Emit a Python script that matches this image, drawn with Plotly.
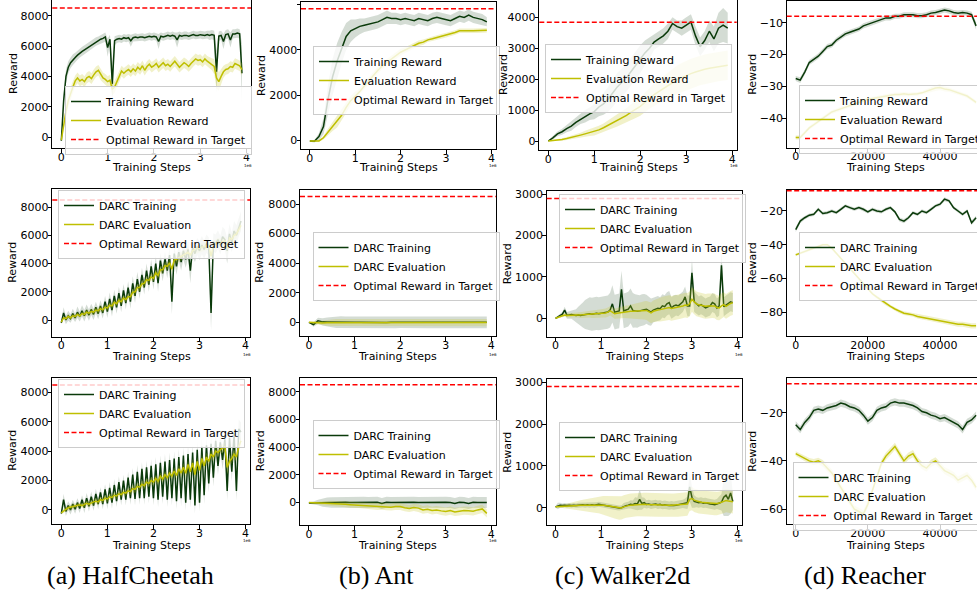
import numpy as np
import plotly.graph_objects as go

W, H = 977, 592

# ---------------- x grids (training steps) ----------------
STEPS_FINE = np.arange(0, 3.9e6 + 1, 5e4)      # 79 points
STEPS_COARSE = np.arange(0, 3.9e6 + 1, 1e5)    # 40 points
STEPS_REACHER = np.arange(0, 50000 + 1, 1250)  # 41 points

# ---------------- HalfCheetah, row 1 ----------------
HC1_TRAIN = [-250, 2400, 4000, 4600, 4900, 5100, 5250, 5400, 5550, 5650,
             5750, 5850, 5950, 6100, 6200, 6300, 6350, 6450, 6500, 6600,
             5900, 6450, 3500, 6350, 6450, 6500, 6450, 6550, 6500, 6550,
             6350, 6550, 6600, 6550, 6600, 6600, 6550, 6600, 6650, 6600,
             6650, 6600, 6300, 6650, 6600, 6650, 6700, 6650, 6700, 6650,
             6400, 6700, 6650, 6700, 6700, 6650, 6700, 6750, 6700, 6700,
             6750, 6700, 6700, 6750, 6700, 6750, 6700, 4300, 6650, 6700,
             6300, 6750, 6800, 6400, 6800, 6800, 6850, 6800, 4200]
HC1_TRAIN_SD = [60, 400, 450, 400, 350, 350, 300, 300, 300, 300,
                300, 300, 300, 300, 300, 280, 280, 280, 280, 300,
                600, 300, 1400, 300, 250, 250, 250, 250, 250, 250,
                400, 250, 250, 250, 250, 250, 250, 250, 250, 250,
                250, 250, 500, 250, 250, 250, 250, 250, 250, 250,
                500, 250, 250, 250, 250, 250, 250, 250, 250, 250,
                250, 250, 250, 250, 300, 300, 300, 1400, 300, 300,
                500, 300, 300, 500, 300, 300, 300, 300, 2000]
HC1_EVAL = [-200, 800, 1700, 2400, 2900, 3300, 3700, 3900, 3700, 3800,
            3650, 3900, 4000, 3850, 4100, 4300, 4400, 4100, 3900, 3800,
            3650, 3750, 3150, 3300, 3700, 4000, 4350, 4200, 4350, 4450,
            4300, 4500, 4350, 4600, 4450, 4700, 4400, 4650, 4800, 4600,
            4700, 4850, 4600, 4750, 4900, 4700, 4800, 4650, 4850, 5000,
            4800, 4600, 4750, 4900, 4800, 4650, 4850, 5000, 5150, 5050,
            5100, 4950, 5150, 5000, 4900, 4800, 4650, 3900, 3650, 4000,
            4300, 4450, 4500, 4650, 4600, 4850, 4750, 4700, 4450]
HC1_EVAL_SD = [60, 300, 400, 400, 400, 400, 350, 350, 350, 350,
               350, 350, 350, 350, 350, 350, 350, 350, 350, 350,
               350, 350, 400, 400, 350, 350, 350, 350, 350, 350,
               350, 350, 350, 350, 350, 350, 350, 350, 350, 350,
               350, 350, 350, 350, 350, 350, 350, 350, 350, 350,
               350, 350, 350, 350, 350, 350, 350, 350, 350, 350,
               350, 350, 350, 350, 350, 400, 500, 700, 600, 500,
               400, 350, 350, 350, 350, 350, 350, 350, 400]
HC1_OPT = 8500

# ---------------- Ant, row 1 ----------------
ANT1_TRAIN = [-50, -60, 150, 600, 1800, 2800, 3500, 4100, 4600, 4850,
              4950, 5050, 5100, 5150, 5200, 5250, 5350, 5450, 5400, 5400,
              5350, 5400, 5350, 5300, 5400, 5350, 5300, 5400, 5450, 5400,
              5350, 5300, 5400, 5500, 5450, 5550, 5450, 5400, 5350, 5250]
ANT1_TRAIN_SD = [30, 50, 150, 350, 650, 800, 800, 700, 600, 500,
                 400, 350, 300, 300, 300, 300, 300, 300, 250, 250,
                 250, 250, 250, 250, 250, 250, 250, 250, 250, 250,
                 250, 250, 250, 250, 250, 250, 250, 250, 250, 200]
ANT1_EVAL = [-50, -60, -40, 100, 350, 600, 800, 1100, 1450, 1750,
             1950, 2150, 2400, 2650, 2900, 3100, 3300, 3450, 3600, 3750,
             3900, 4000, 4100, 4200, 4300, 4350, 4450, 4500, 4550, 4600,
             4650, 4700, 4780, 4850, 4870, 4860, 4850, 4850, 4850, 4880]
ANT1_EVAL_SD = [20, 30, 50, 80, 150, 200, 250, 250, 250, 200,
                200, 150, 150, 150, 150, 150, 150, 150, 150, 150,
                150, 120, 120, 120, 120, 120, 100, 100, 100, 100,
                100, 100, 100, 100, 100, 100, 100, 100, 100, 100]
ANT1_OPT = 5830

# ---------------- Walker2d, row 1 ----------------
WK1_TRAIN = [0, 100, 230, 300, 400, 480, 600, 700, 800, 880,
             950, 1100, 1200, 1350, 1550, 1750, 1900, 2050, 2250, 2450,
             2650, 2850, 3000, 3200, 3300, 3400, 3550, 3800, 3700, 3650,
             3750, 3850, 3400, 3050, 3250, 3550, 3300, 3650, 3750, 3650]
WK1_TRAIN_SD = [20, 50, 80, 100, 120, 150, 150, 150, 200, 200,
                250, 300, 350, 400, 450, 450, 450, 450, 450, 450,
                450, 400, 350, 250, 250, 250, 250, 200, 200, 250,
                250, 250, 300, 300, 300, 350, 400, 500, 550, 500]
WK1_EVAL = [0, 10, 30, 50, 80, 110, 150, 190, 230, 270,
            300, 360, 430, 510, 590, 670, 740, 830, 930, 1020,
            1120, 1250, 1380, 1500, 1600, 1700, 1800, 1900, 1980, 2050,
            2120, 2180, 2230, 2280, 2320, 2350, 2380, 2410, 2440, 2450]
WK1_EVAL_SD = [10, 20, 30, 40, 50, 60, 70, 80, 100, 110,
               120, 130, 140, 160, 180, 200, 220, 240, 260, 280,
               300, 320, 340, 360, 380, 400, 420, 440, 460, 470,
               480, 480, 480, 480, 480, 480, 480, 480, 480, 480]
WK1_OPT = 3840

# ---------------- Reacher, row 1 ----------------
RC1_TRAIN = [-27.5, -28.0, -25.5, -22.5, -21.5, -20.5, -19.0, -17.5, -17.0, -15.5,
             -14.5, -13.5, -13.0, -12.5, -12.0, -11.0, -10.5, -10.0, -9.5, -9.0,
             -8.5, -8.5, -8.0, -8.0, -7.5, -7.5, -7.5, -7.8, -7.8, -7.5,
             -7.0, -6.8, -6.5, -6.0, -6.3, -6.8, -7.0, -6.8, -7.0, -7.5,
             -11.0]
RC1_TRAIN_SD = [0.8, 0.9, 0.8, 0.8, 0.8, 0.8, 0.8, 0.8, 0.8, 0.8,
                0.8, 0.8, 0.8, 0.8, 0.8, 0.8, 0.8, 0.8, 0.8, 0.8,
                0.8, 0.8, 0.8, 0.8, 0.8, 0.8, 0.8, 0.8, 0.8, 0.8,
                0.8, 0.8, 0.8, 0.8, 0.8, 0.8, 0.8, 0.8, 0.8, 0.9,
                1.2]
RC1_EVAL = [-46.0, -46.0, -44.5, -43.0, -42.0, -41.0, -40.0, -39.0, -38.0, -37.5,
            -37.0, -36.5, -36.0, -35.5, -35.0, -34.5, -34.0, -33.8, -33.5, -33.2,
            -33.0, -32.8, -32.5, -32.5, -32.3, -32.5, -32.5, -32.3, -32.0, -31.5,
            -31.0, -30.5, -30.3, -30.8, -31.0, -31.5, -32.0, -32.5, -33.0, -34.0,
            -35.0]
RC1_EVAL_SD = [0.6, 0.6, 0.6, 0.6, 0.6, 0.6, 0.6, 0.6, 0.6, 0.6,
               0.6, 0.6, 0.6, 0.6, 0.6, 0.6, 0.6, 0.6, 0.6, 0.6,
               0.6, 0.6, 0.6, 0.6, 0.6, 0.6, 0.6, 0.6, 0.6, 0.7,
               0.8, 0.9, 0.9, 0.8, 0.7, 0.6, 0.6, 0.6, 0.6, 0.6,
               0.6]
RC1_OPT = -8

# ---------------- HalfCheetah, row 2 (DARC) ----------------
HC2_TRAIN = [-200, 500, 0, 300, 100, 450, 150, 550, 250, 650,
             300, 700, 350, 750, 400, 900, 450, 1000, 500, 1300,
             600, 1500, 700, 1700, 900, 1900, 1000, 2100, 1200, 2300,
             1300, 2600, 1700, 2900, 2000, 3200, 2300, 3500, 2500, 3800,
             2700, 4000, 2600, 4200, 3300, 4300, 3500, 4600, 1300, 4700,
             3800, 4800, 4100, 4900, 4300, 5000, 3500, 5100, 4700, 5200,
             4900, 5300, 5000, 5400, 5200, 500, 5500, 5400, 5700, 5300,
             5900, 5700, 4900, 6100, 5500, 6300, 6000, 6600, 7000]
HC2_TRAIN_SD = [100, 400, 300, 350, 300, 350, 300, 400, 350, 400,
                400, 400, 400, 400, 400, 400, 400, 400, 400, 400,
                450, 450, 450, 450, 450, 450, 450, 450, 450, 450,
                500, 500, 500, 500, 500, 500, 500, 500, 500, 500,
                550, 550, 600, 550, 550, 550, 550, 550, 900, 550,
                600, 600, 600, 600, 600, 600, 900, 600, 600, 600,
                650, 650, 650, 650, 650, 1200, 650, 650, 650, 650,
                700, 700, 900, 700, 700, 700, 700, 700, 700]
HC2_EVAL = [-150, 150, 100, 250, 150, 300, 250, 400, 300, 450,
            400, 550, 480, 600, 560, 700, 650, 800, 720, 900,
            850, 1050, 1000, 1250, 1150, 1400, 1300, 1550, 1450, 1650,
            1650, 1950, 2000, 2300, 2300, 2550, 2600, 2850, 2800, 3050,
            2950, 3350, 3150, 3550, 3550, 3850, 3800, 4050, 3600, 4250,
            4300, 4400, 4500, 4650, 4700, 4800, 4600, 4900, 5000, 5050,
            5100, 5150, 5200, 5250, 5300, 4500, 5300, 5400, 5500, 5450,
            5500, 5600, 5000, 5800, 5700, 6000, 6100, 6400, 6700]
HC2_EVAL_SD = [50, 100, 120, 150, 150, 150, 150, 150, 150, 150,
               200, 200, 200, 200, 200, 200, 200, 200, 200, 200,
               200, 200, 200, 200, 200, 200, 200, 200, 200, 200,
               250, 250, 250, 250, 250, 250, 250, 250, 250, 250,
               250, 250, 250, 250, 250, 250, 250, 250, 250, 250,
               300, 300, 300, 300, 300, 300, 300, 300, 300, 300,
               300, 300, 300, 300, 300, 300, 300, 300, 300, 300,
               300, 300, 300, 300, 300, 300, 300, 300, 300]
HC2_OPT = 8500

# ---------------- Ant, row 2 (DARC) ----------------
ANT2_TRAIN = [0, -150, 100, 30, 20, 10, 0, 10, 0, -10,
              0, 10, 0, -10, 0, 0, 10, -10, 0, 0,
              10, 0, -10, 0, 0, 10, 0, -10, 0, 0,
              10, 0, -10, 0, 0, 10, 0, 0, -10, 0]
ANT2_TRAIN_SD = [20, 150, 200, 250, 300, 350, 380, 400, 400, 400,
                 400, 400, 400, 400, 400, 400, 400, 400, 400, 400,
                 400, 400, 400, 400, 400, 400, 400, 400, 400, 400,
                 400, 400, 400, 400, 400, 400, 400, 400, 400, 400]
ANT2_EVAL = [0, -30, -50, -40, -30, -30, -20, -30, -40, -50,
             -30, -20, -30, -20, -20, -10, -20, -30, -20, -20,
             -20, -30, -20, -20, -30, -20, -10, -20, -20, -30,
             -20, -20, -20, -20, -30, -20, -20, -30, -20, -20]
ANT2_EVAL_SD = [10, 80, 100, 150, 200, 220, 250, 250, 250, 250,
                250, 250, 250, 250, 250, 250, 250, 250, 250, 250,
                250, 250, 250, 250, 250, 250, 250, 250, 250, 250,
                250, 250, 250, 250, 250, 250, 250, 250, 250, 250]
ANT2_OPT = 8500

# ---------------- Walker2d, row 2 (DARC) ----------------
WK2_TRAIN = [0, 40, 80, 100, 200, 70, 80, 90, 80, 70,
             80, 70, 80, 90, 100, 110, 100, 110, 120, 110,
             120, 130, 140, 150, 200, 350, 150, 170, 180, 700,
             180, 200, 220, 300, 190, 180, 170, 180, 200, 210,
             220, 180, 150, 200, 220, 240, 230, 300, 280, 350,
             380, 250, 300, 320, 300, 350, 400, 520, 300, 300,
             1100, 400, 350, 300, 330, 300, 250, 280, 300, 380,
             350, 250, 300, 1280, 280, 320, 350, 400, 380]
WK2_TRAIN_SD = [20, 30, 40, 50, 80, 80, 90, 100, 120, 150,
                200, 250, 300, 350, 380, 400, 400, 400, 400, 400,
                400, 400, 400, 400, 420, 450, 420, 420, 420, 450,
                420, 420, 420, 420, 420, 400, 400, 380, 380, 380,
                350, 350, 330, 300, 300, 300, 280, 280, 280, 280,
                280, 260, 260, 250, 250, 250, 250, 250, 250, 250,
                350, 250, 230, 230, 230, 230, 230, 230, 230, 230,
                230, 230, 230, 350, 230, 230, 230, 230, 230]
WK2_EVAL = [0, 20, 50, 70, 80, 70, 70, 70, 75, 75,
            80, 80, 85, 90, 95, 100, 100, 105, 110, 110,
            115, 120, 130, 150, 180, 150, 110, 120, 130, 140,
            150, 160, 160, 170, 170, 175, 180, 180, 185, 190,
            190, 160, 130, 170, 190, 200, 210, 220, 230, 250,
            260, 240, 250, 270, 280, 290, 300, 320, 310, 350,
            460, 400, 350, 330, 320, 300, 290, 300, 300, 310,
            300, 260, 250, 300, 330, 290, 330, 360, 380]
WK2_EVAL_SD = [10, 20, 30, 40, 40, 50, 50, 50, 60, 60,
               60, 70, 70, 80, 80, 80, 90, 90, 90, 100,
               100, 100, 110, 110, 110, 120, 120, 130, 130, 140,
               140, 150, 150, 160, 170, 180, 190, 200, 210, 220,
               230, 240, 250, 260, 270, 280, 290, 300, 300, 300,
               300, 300, 300, 300, 300, 300, 300, 300, 300, 300,
               300, 300, 300, 300, 300, 300, 300, 300, 300, 300,
               300, 300, 300, 300, 300, 300, 300, 300, 300]
WK2_OPT = 2900

# ---------------- Reacher, row 2 (DARC) ----------------
RC2_TRAIN = [-31, -26, -24, -22.5, -22, -19, -21.5, -21, -20, -21,
             -19, -17, -18, -19, -18, -19, -20.5, -19, -20, -20.5,
             -19, -18, -20.5, -25, -26, -24, -21, -22, -20, -21,
             -19, -17, -16, -13, -14, -18, -20, -22, -20, -27,
             -24]
RC2_TRAIN_SD = [1.5, 1.2, 1.0, 1.0, 1.0, 1.0, 1.0, 1.0, 1.0, 1.0,
                1.0, 1.0, 1.0, 1.0, 1.0, 1.0, 1.0, 1.0, 1.0, 1.0,
                1.0, 1.0, 1.0, 1.2, 1.2, 1.0, 1.0, 1.0, 1.0, 1.0,
                1.0, 1.0, 1.0, 1.2, 1.0, 1.0, 1.0, 1.0, 1.0, 1.3,
                1.2]
RC2_EVAL = [-46, -45, -44, -43, -42, -41, -40, -40, -42, -45,
            -48, -51, -54, -57, -60, -63, -66, -69, -71, -73,
            -75, -76.5, -78, -79.5, -80.5, -81, -81.5, -82.5, -83, -83.5,
            -84, -84.5, -85, -85.5, -86, -86.5, -87, -87, -87.5, -88,
            -88]
RC2_EVAL_SD = [0.8, 0.8, 0.8, 0.8, 0.8, 0.8, 0.8, 0.8, 0.8, 0.8,
               0.8, 0.8, 0.8, 0.8, 0.8, 0.8, 0.9, 0.9, 0.9, 1.0,
               1.0, 1.0, 1.0, 1.0, 1.1, 1.1, 1.1, 1.2, 1.2, 1.2,
               1.3, 1.3, 1.3, 1.4, 1.4, 1.4, 1.5, 1.5, 1.5, 1.5,
               1.5]
RC2_OPT = -8

# ---------------- HalfCheetah, row 3 (DARC) ----------------
HC3_TRAIN = [-250, 700, -100, 300, 0, 400, 50, 500, 100, 700,
             150, 800, 250, 900, 300, 1100, 400, 1200, 400, 1400,
             450, 1500, 500, 1700, 600, 1900, 700, 2000, 700, 2200,
             800, 2400, 750, 2600, 800, 2800, 800, 2900, 900, 3000,
             800, 3100, 700, 3200, 900, 3300, 700, 3400, 800, 3500,
             600, 3600, 800, 3700, 500, 3800, 700, 3900, 300, 4100,
             500, 4300, 1000, 4400, 1800, 4500, 2200, 4700, 3000, 4600,
             3400, 4800, 1300, 4900, 2600, 5200, 1300, 5500, 5300]
HC3_TRAIN_SD = [100, 400, 300, 300, 300, 300, 300, 300, 300, 300,
                350, 350, 350, 350, 350, 350, 350, 350, 350, 350,
                400, 400, 400, 400, 400, 400, 400, 400, 400, 400,
                450, 450, 450, 450, 450, 450, 450, 450, 450, 450,
                500, 500, 500, 500, 500, 500, 500, 500, 500, 500,
                550, 550, 550, 550, 550, 550, 550, 550, 550, 550,
                600, 600, 600, 600, 600, 600, 600, 600, 600, 600,
                650, 650, 650, 650, 650, 650, 650, 650, 650]
HC3_EVAL = [-200, -50, 50, 150, 200, 250, 250, 300, 350, 300,
            350, 450, 400, 500, 550, 600, 550, 700, 650, 800,
            750, 900, 850, 1000, 950, 1100, 1050, 1200, 1150, 1300,
            1250, 1450, 1400, 1600, 1550, 1750, 1650, 1900, 1800, 2000,
            1900, 2150, 1950, 2300, 2100, 2400, 2200, 2500, 2300, 2650,
            2350, 2800, 2500, 2900, 2500, 3100, 2600, 3200, 2400, 3300,
            2700, 3500, 3000, 3600, 3300, 3800, 3600, 4000, 3900, 4100,
            4200, 4300, 2900, 3300, 3500, 3800, 3600, 4300, 4700]
HC3_EVAL_SD = [50, 150, 150, 150, 150, 150, 150, 150, 150, 150,
               200, 200, 200, 200, 200, 200, 200, 200, 200, 200,
               200, 200, 200, 200, 200, 200, 200, 200, 200, 200,
               250, 250, 250, 250, 250, 250, 250, 250, 250, 250,
               250, 250, 250, 250, 250, 250, 250, 250, 250, 250,
               300, 300, 300, 300, 300, 300, 300, 300, 300, 300,
               300, 300, 300, 300, 300, 300, 300, 300, 300, 300,
               300, 300, 500, 300, 300, 300, 300, 300, 300]
HC3_OPT = 8500

# ---------------- Ant, row 3 (DARC) ----------------
ANT3_TRAIN = [-50, -40, -10, -20, 0, -10, -20, -10, 0, -10,
              0, -10, 0, -20, -10, 0, -90, 0, -10, 0,
              -10, 0, -10, 0, -20, -10, 0, -10, 0, -10,
              0, -10, -80, 0, -10, -90, 0, -10, 0, -10]
ANT3_TRAIN_SD = [50, 100, 200, 300, 350, 380, 400, 400, 400, 400,
                 400, 400, 400, 400, 400, 400, 400, 400, 400, 400,
                 400, 400, 400, 400, 400, 400, 400, 400, 400, 400,
                 400, 400, 400, 400, 400, 400, 400, 400, 400, 400]
ANT3_EVAL = [-20, -30, -50, -60, -80, -90, -100, -120, -150, -170,
             -190, -200, -220, -250, -280, -300, -280, -320, -350, -300,
             -310, -400, -450, -380, -420, -550, -500, -600, -550, -620,
             -670, -600, -700, -650, -600, -620, -650, -550, -480, -800]
ANT3_EVAL_SD = [30, 60, 100, 150, 200, 200, 200, 200, 200, 200,
                220, 220, 220, 220, 220, 250, 250, 250, 250, 250,
                250, 250, 250, 250, 280, 280, 280, 280, 280, 300,
                300, 300, 300, 300, 300, 300, 300, 300, 300, 300]
ANT3_OPT = 8500

# ---------------- Walker2d, row 3 (DARC) ----------------
WK3_TRAIN = [20, 40, 60, 50, 60, 50, 60, 50, 60, 50,
             60, 60, 70, 60, 70, 60, 70, 60, 70, 80,
             70, 60, 50, 40, 30, 20, 10, 0, -10, 0,
             30, 50, 60, 80, 70, 100, 90, 200, 100, 120,
             80, 90, 70, 80, 90, 70, 80, 60, 70, 60,
             50, 60, 50, 60, 70, 80, 90, 100, 120, 500,
             250, 150, 130, 120, 130, 110, 120, 100, 90, 80,
             70, 90, 110, 130, 250, 300, 200, 350, 150]
WK3_TRAIN_SD = [20, 80, 60, 50, 50, 50, 50, 50, 50, 50,
                60, 60, 60, 60, 60, 60, 60, 60, 60, 60,
                60, 60, 60, 60, 60, 60, 60, 60, 60, 60,
                80, 80, 80, 100, 100, 150, 150, 250, 150, 120,
                100, 100, 100, 100, 100, 100, 100, 100, 100, 100,
                100, 100, 100, 100, 100, 100, 100, 120, 150, 350,
                250, 150, 120, 120, 120, 120, 120, 120, 120, 120,
                120, 120, 150, 200, 450, 500, 400, 500, 200]
WK3_EVAL = [20, 25, 30, 35, 40, 42, 45, 48, 50, 52,
            55, 56, 58, 60, 60, 62, 64, 65, 66, 68,
            66, 60, 50, 40, 30, 20, 10, 0, -10, -5,
            20, 40, 50, 60, 65, 70, 75, 80, 85, 80,
            75, 72, 70, 70, 68, 66, 65, 64, 62, 60,
            58, 60, 62, 64, 66, 70, 75, 80, 90, 200,
            220, 180, 160, 140, 130, 125, 120, 115, 110, 105,
            100, 100, 110, 130, 150, 170, 160, 150, 140]
WK3_EVAL_SD = [10, 20, 30, 40, 50, 60, 70, 80, 90, 100,
               110, 120, 130, 140, 150, 160, 170, 180, 190, 200,
               210, 220, 230, 240, 250, 260, 270, 280, 280, 280,
               280, 280, 280, 280, 280, 280, 280, 280, 280, 280,
               280, 280, 280, 280, 280, 280, 280, 280, 280, 280,
               280, 280, 280, 280, 280, 280, 280, 280, 280, 280,
               280, 280, 280, 280, 280, 280, 280, 280, 280, 280,
               280, 280, 280, 280, 280, 280, 280, 280, 280]
WK3_OPT = 2900

# ---------------- Reacher, row 3 (DARC) ----------------
RC3_TRAIN = [-25, -27, -24, -22, -19, -18.5, -19, -18, -17.5, -17,
             -16, -16.5, -17.5, -18, -19, -21, -23.5, -22, -19, -18,
             -17.5, -16, -15.5, -16, -16, -16.5, -17, -18, -19.5, -20,
             -21, -21.5, -22.5, -22, -23, -24, -25, -27, -24, -23,
             -21]
RC3_TRAIN_SD = [1.5, 1.5, 1.5, 1.5, 1.5, 1.5, 1.5, 1.5, 1.5, 1.5,
                1.5, 1.5, 1.5, 1.5, 1.5, 1.5, 1.5, 1.5, 1.5, 1.5,
                1.5, 1.5, 1.5, 1.5, 1.5, 1.5, 1.5, 1.5, 1.5, 1.5,
                1.5, 1.5, 1.5, 1.5, 1.5, 1.5, 1.5, 1.6, 1.5, 1.5,
                1.5]
RC3_EVAL = [-37, -38, -39, -40, -40.5, -40, -41, -43, -45, -48,
            -51, -54, -57, -60, -61, -62, -58, -52, -46, -41,
            -38, -36, -34, -37, -40, -38, -37, -40, -42, -43,
            -41, -40, -42, -44, -45, -46, -48, -47, -46, -48,
            -51]
RC3_EVAL_SD = [1.0, 1.0, 1.2, 1.2, 1.3, 1.3, 1.4, 1.4, 1.5, 1.5,
               1.5, 1.5, 1.5, 1.5, 1.5, 1.5, 1.5, 1.5, 1.5, 1.5,
               1.5, 1.5, 1.5, 1.5, 1.5, 1.5, 1.5, 1.5, 1.5, 1.5,
               1.5, 1.5, 1.5, 1.5, 1.5, 1.5, 1.5, 1.5, 1.5, 1.5,
               1.5]
RC3_OPT = -8

ROW1_NAMES = ["Training Reward", "Evaluation Reward", "Optimal Reward in Target"]
DARC_NAMES = ["DARC Training", "DARC Evaluation", "Optimal Reward in Target"]
CAPTIONS = ["(a) HalfCheetah", "(b) Ant", "(c) Walker2d", "(d) Reacher"]
STEP_TICKS = [0, 1e6, 2e6, 3e6, 4e6]
STEP_TICKTEXT = ["0", "1", "2", "3", "4"]
REACHER_TICKS = [0, 20000, 40000]

# ---------------- styling ----------------
TRAIN_C = "#0a3a0a"
EVAL_C = "#bfbf00"
TRAIN_FILL = "rgba(90,120,90,0.26)"
EVAL_FILL = "rgba(200,200,40,0.25)"
FONT = "DejaVu Sans"

panels = [
    dict(x=STEPS_FINE, tr=HC1_TRAIN, trs=HC1_TRAIN_SD, ev=HC1_EVAL, evs=HC1_EVAL_SD, opt=HC1_OPT, names=ROW1_NAMES),
    dict(x=STEPS_COARSE, tr=ANT1_TRAIN, trs=ANT1_TRAIN_SD, ev=ANT1_EVAL, evs=ANT1_EVAL_SD, opt=ANT1_OPT, names=ROW1_NAMES),
    dict(x=STEPS_COARSE, tr=WK1_TRAIN, trs=WK1_TRAIN_SD, ev=WK1_EVAL, evs=WK1_EVAL_SD, opt=WK1_OPT, names=ROW1_NAMES),
    dict(x=STEPS_REACHER, tr=RC1_TRAIN, trs=RC1_TRAIN_SD, ev=RC1_EVAL, evs=RC1_EVAL_SD, opt=RC1_OPT, names=ROW1_NAMES),
    dict(x=STEPS_FINE, tr=HC2_TRAIN, trs=HC2_TRAIN_SD, ev=HC2_EVAL, evs=HC2_EVAL_SD, opt=HC2_OPT, names=DARC_NAMES),
    dict(x=STEPS_COARSE, tr=ANT2_TRAIN, trs=ANT2_TRAIN_SD, ev=ANT2_EVAL, evs=ANT2_EVAL_SD, opt=ANT2_OPT, names=DARC_NAMES),
    dict(x=STEPS_FINE, tr=WK2_TRAIN, trs=WK2_TRAIN_SD, ev=WK2_EVAL, evs=WK2_EVAL_SD, opt=WK2_OPT, names=DARC_NAMES),
    dict(x=STEPS_REACHER, tr=RC2_TRAIN, trs=RC2_TRAIN_SD, ev=RC2_EVAL, evs=RC2_EVAL_SD, opt=RC2_OPT, names=DARC_NAMES),
    dict(x=STEPS_FINE, tr=HC3_TRAIN, trs=HC3_TRAIN_SD, ev=HC3_EVAL, evs=HC3_EVAL_SD, opt=HC3_OPT, names=DARC_NAMES),
    dict(x=STEPS_COARSE, tr=ANT3_TRAIN, trs=ANT3_TRAIN_SD, ev=ANT3_EVAL, evs=ANT3_EVAL_SD, opt=ANT3_OPT, names=DARC_NAMES),
    dict(x=STEPS_FINE, tr=WK3_TRAIN, trs=WK3_TRAIN_SD, ev=WK3_EVAL, evs=WK3_EVAL_SD, opt=WK3_OPT, names=DARC_NAMES),
    dict(x=STEPS_REACHER, tr=RC3_TRAIN, trs=RC3_TRAIN_SD, ev=RC3_EVAL, evs=RC3_EVAL_SD, opt=RC3_OPT, names=DARC_NAMES),
]

# layout geometry in pixels: (left, right, top, bottom), y range, y dtick, legend (left, top), ylabel x
geom = [
    dict(box=(52.3, 251, 0, 148), yr=(-725, 9035), dt=2000, leg=(65, 86), ylx=13),
    dict(box=(301, 495.7, 2, 149), yr=(-400, 6133), dt=2000, leg=(313, 46), ylx=261.5),
    dict(box=(539.3, 736.7, 0, 150), yr=(-291, 4560), dt=1000, leg=(545, 44), ylx=503),
    dict(box=(786.7, 977, 1, 147.7), yr=(-49.2, -3.2), dt=10, leg=(799, 85), ylx=752.5),
    dict(box=(52.3, 250, 189, 336.7), yr=(-1182, 9274), dt=2000, leg=(58, 190), ylx=13),
    dict(box=(300, 495.7, 189.7, 336), yr=(-926, 8967), dt=2000, leg=(312.5, 232), ylx=260),
    dict(box=(546.7, 741.7, 191, 336.7), yr=(-445, 3080), dt=1000, leg=(559, 194), ylx=507.5),
    dict(box=(786.7, 977, 189.7, 336), yr=(-94.0, -7.4), dt=20, leg=(799, 232), ylx=752.5),
    dict(box=(52.3, 250, 377.7, 524), yr=(-952, 8992), dt=2000, leg=(58, 379), ylx=13),
    dict(box=(300, 495.7, 377.7, 525), yr=(-1642, 9013), dt=2000, leg=(312.5, 420), ylx=260),
    dict(box=(546.7, 741.7, 379.3, 525), yr=(-414, 3072), dt=1000, leg=(559, 422), ylx=507.5),
    dict(box=(786.7, 977, 378.3, 524), yr=(-66.2, -5.7), dt=20, leg=(792.5, 462), ylx=752.5),
]
XLABEL_Y = [167.7, 356, 545]
OFFSET_Y = [165.5, 354.5, 540.5]
CAPTION_X = [130, 376.5, 622.5, 865]
CAPTION_Y = 575

fig = go.Figure()
layout = dict(
    width=W, height=H, margin=dict(l=0, r=0, t=0, b=0, pad=0, autoexpand=False),
    paper_bgcolor="white", plot_bgcolor="white",
    font=dict(family=FONT, size=11, color="black"),
    shapes=[], annotations=[],
)

for k, (p, g) in enumerate(zip(panels, geom), start=1):
    sfx = "" if k == 1 else str(k)
    xa, ya = "x" + sfx, "y" + sfx
    lg = "legend" + sfx
    reacher = (k % 4 == 0)
    x = np.asarray(p["x"], dtype=float)
    tr = np.asarray(p["tr"], dtype=float)
    trs = np.asarray(p["trs"], dtype=float)
    ev = np.asarray(p["ev"], dtype=float)
    evs = np.asarray(p["evs"], dtype=float)

    xx = np.concatenate([x, x[::-1]])
    fig.add_trace(go.Scatter(x=xx, y=np.concatenate([tr + trs, (tr - trs)[::-1]]),
                             fill="toself", fillcolor=TRAIN_FILL, line=dict(width=0),
                             mode="lines", showlegend=False, hoverinfo="skip",
                             xaxis=xa, yaxis=ya))
    fig.add_trace(go.Scatter(x=x, y=tr, mode="lines", name=p["names"][0],
                             line=dict(color=TRAIN_C, width=1.5),
                             legend=lg, xaxis=xa, yaxis=ya))
    fig.add_trace(go.Scatter(x=xx, y=np.concatenate([ev + evs, (ev - evs)[::-1]]),
                             fill="toself", fillcolor=EVAL_FILL, line=dict(width=0),
                             mode="lines", showlegend=False, hoverinfo="skip",
                             xaxis=xa, yaxis=ya))
    fig.add_trace(go.Scatter(x=x, y=ev, mode="lines", name=p["names"][1],
                             line=dict(color=EVAL_C, width=1.5),
                             legend=lg, xaxis=xa, yaxis=ya))
    # legend entry for the optimal line
    fig.add_trace(go.Scatter(x=[None], y=[None], mode="lines", name=p["names"][2],
                             line=dict(color="#ff0000", width=1.5, dash="5px,2.5px"),
                             legend=lg, xaxis=xa, yaxis=ya, hoverinfo="skip"))
    layout["shapes"].append(dict(type="line", xref=xa + " domain", x0=0, x1=1,
                                 yref=ya, y0=p["opt"], y1=p["opt"], layer="above",
                                 line=dict(color="#ff0000", width=1.5, dash="5px,2.5px")))

    L, R, T, B = g["box"]
    if reacher:
        xr = [-2500, -2500 + (W - L) / ((939.3 - 795.0) / 40000)]
        tickvals, ticktext = REACHER_TICKS, [str(v) for v in REACHER_TICKS]
    else:
        xr = [-195000, 4095000]
        tickvals, ticktext = STEP_TICKS, STEP_TICKTEXT
    common = dict(showgrid=False, zeroline=False, showline=True, linecolor="black",
                  linewidth=1, ticks="outside", ticklen=3.5, tickwidth=1, tickcolor="black",
                  tickfont=dict(family=FONT, size=11, color="black"))
    layout["xaxis" + sfx] = dict(domain=[L / W, min(R / W, 1)], range=xr, anchor=ya,
                                 tickmode="array", tickvals=tickvals, ticktext=ticktext,
                                 mirror=True, ticklabelstandoff=-5, **common)
    layout["yaxis" + sfx] = dict(domain=[1 - B / H, 1 - T / H], range=list(g["yr"]), anchor=xa,
                                 tickmode="linear", tick0=0, dtick=g["dt"],
                                 mirror=(not reacher), ticklabelstandoff=-3, **common)
    lx, ly = g["leg"]
    layout[lg] = dict(x=lx / W, y=1 - ly / H, xanchor="left", yanchor="top",
                      xref="paper", yref="paper",
                      bgcolor="rgba(255,255,255,0.8)", bordercolor="#cccccc", borderwidth=1,
                      font=dict(family=FONT, size=11, color="black"),
                      itemwidth=30, tracegroupgap=0)

    row = (k - 1) // 4
    xl_x = 25000 if reacher else 1.95e6
    layout["annotations"].append(dict(text="Training Steps", xref=xa, x=xl_x,
                                      yref="paper", y=1 - XLABEL_Y[row] / H,
                                      showarrow=False, xanchor="center", yanchor="middle",
                                      font=dict(family=FONT, size=11)))
    if not reacher:
        layout["annotations"].append(dict(text="1e6", xref=xa, x=4.03e6,
                                          yref="paper", y=1 - OFFSET_Y[row] / H,
                                          showarrow=False, xanchor="center", yanchor="middle",
                                          borderpad=0, font=dict(family=FONT, size=4)))
    layout["annotations"].append(dict(text="Reward", textangle=-90, xref="paper", x=g["ylx"] / W,
                                      yref=ya + " domain", y=0.5, showarrow=False,
                                      xanchor="center", yanchor="middle",
                                      font=dict(family=FONT, size=11)))

for cx, cap in zip(CAPTION_X, CAPTIONS):
    layout["annotations"].append(dict(text=cap, xref="paper", x=cx / W, yref="paper",
                                      y=1 - CAPTION_Y / H, showarrow=False,
                                      xanchor="center", yanchor="middle",
                                      font=dict(family="Liberation Serif", size=26, color="black")))

fig.update_layout(**layout)
fig.write_html("out.html", config={"displayModeBar": False},
               post_script="document.body.style.margin='0';document.body.style.overflow='hidden';")
